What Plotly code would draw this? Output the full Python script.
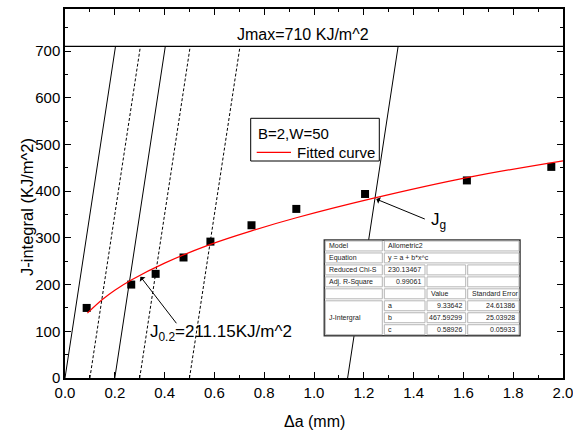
import plotly.graph_objects as go

# ---------------- data ----------------
da_points = [0.087, 0.266, 0.364, 0.476, 0.584, 0.749, 0.929, 1.205, 1.614, 1.953]
j_points = [150, 200, 223, 258, 292, 327, 362, 394, 423, 452]

fit_x = [0.09, 0.15, 0.2, 0.27, 0.4, 0.584, 0.749, 0.929, 1.24, 1.614, 2.0]
fit_y = [139, 168, 188, 211, 246, 286, 315, 343, 385, 429, 465]

solid_offsets = [0.0, 0.2, 1.135]
dashed_offsets = [0.1, 0.3, 0.5]
blunt_slope = 3500.0
j_max = 710

legend_title = "B=2,W=50"
legend_label = "Fitted curve"

table_rows = [
    ["Model", "Allometric2", None, None],
    ["Equation", "y = a + b*x^c", None, None],
    ["Reduced Chi-S", "230.13467", "", ""],
    ["Adj. R-Square", "0.99061", "", ""],
    ["", "", "Value", "Standard Error"],
    ["J-Intergral", "a", "9.33642", "24.61386"],
    [None, "b", "467.59299", "25.03928"],
    [None, "c", "0.58926", "0.05933"],
]

FONT = "Liberation Sans, Arial, sans-serif"
W, H = 573, 432
ML, MR, MT, MB = 65, 10, 9, 54
X0, X1 = 0.0, 2.0
Y0, Y1 = 0.0, 790.0
PW, PH = W - ML - MR, H - MT - MB


def px2x(px):
    return X0 + (px - ML) / PW * (X1 - X0)


def py2y(py):
    return Y0 + (H - MB - py) / PH * (Y1 - Y0)


fig = go.Figure()

# blunting / offset lines
for offs, dash in [(solid_offsets, "solid"), (dashed_offsets, "3px,2px")]:
    for o in offs:
        fig.add_trace(go.Scatter(
            x=[o, o + j_max / blunt_slope], y=[0, j_max], mode="lines",
            line=dict(color="black", width=1, dash=dash),
            showlegend=False, hoverinfo="skip"))

# Jmax line
fig.add_trace(go.Scatter(x=[X0, X1], y=[j_max, j_max], mode="lines",
                         line=dict(color="black", width=1.2),
                         showlegend=False, hoverinfo="skip"))

# data points
fig.add_trace(go.Scatter(x=da_points, y=j_points, mode="markers",
                         marker=dict(symbol="square", size=8, color="black"),
                         showlegend=False))

# fitted curve
fig.add_trace(go.Scatter(x=fit_x, y=fit_y, mode="lines", name=legend_label,
                         line=dict(color="red", width=1.2, shape="spline"),
                         showlegend=False))

annotations = []
shapes = []

annotations.append(dict(x=0.955, y=j_max, xref="x", yref="y", text="Jmax=710 KJ/m^2",
                        showarrow=False, yanchor="bottom", yshift=1,
                        font=dict(size=16, color="black", family=FONT)))
# J0.2 arrow
annotations.append(dict(x=0.303, y=217, ax=0.452, ay=114, xref="x", yref="y",
                        axref="x", ayref="y", text="", showarrow=True,
                        arrowhead=1, arrowsize=1.2, arrowwidth=1, arrowcolor="black"))
annotations.append(dict(x=0.334, y=97, xref="x", yref="y",
                        text="J<sub>0.2</sub>=211.15KJ/m^2", showarrow=False,
                        xanchor="left", yanchor="middle",
                        font=dict(size=17, color="black", family=FONT)))
# Jg arrow
annotations.append(dict(x=1.25, y=383, ax=1.451, ay=339, xref="x", yref="y",
                        axref="x", ayref="y", text="", showarrow=True,
                        arrowhead=1, arrowsize=1.2, arrowwidth=1, arrowcolor="black"))
annotations.append(dict(x=1.463, y=337, xref="x", yref="y",
                        text="J<sub>g</sub>", showarrow=False,
                        xanchor="left", yanchor="middle",
                        font=dict(size=17, color="black", family=FONT)))
# axis titles
annotations.append(dict(x=-0.098, y=0.464, xref="paper", yref="paper",
                        text="J-integral (KJ/m^2)", textangle=-90, showarrow=False,
                        font=dict(size=16.5, color="black", family=FONT)))
annotations.append(dict(x=0.5, y=-0.118, xref="paper", yref="paper",
                        text="\u0394a (mm)", showarrow=False, yanchor="middle",
                        font=dict(size=16, color="black", family=FONT)))

# ---------------- legend (drawn box) ----------------
lg_l, lg_r, lg_t, lg_b = 250.7, 379.3, 118.3, 161.0
shapes.append(dict(type="rect", xref="x", yref="y", layer="above",
                   x0=px2x(lg_l), x1=px2x(lg_r), y0=py2y(lg_b), y1=py2y(lg_t),
                   fillcolor="white", line=dict(color="black", width=1)))
shapes.append(dict(type="line", xref="x", yref="y", layer="above",
                   x0=px2x(256.7), x1=px2x(291), y0=py2y(152.3), y1=py2y(152.3),
                   line=dict(color="red", width=1.2)))
annotations.append(dict(x=px2x(256), y=py2y(133.3), xref="x", yref="y",
                        text=legend_title, showarrow=False, xanchor="left",
                        yanchor="middle", font=dict(size=15, color="black", family=FONT)))
annotations.append(dict(x=px2x(295), y=py2y(152), xref="x", yref="y",
                        text=legend_label, showarrow=False, xanchor="left",
                        yanchor="middle", font=dict(size=15, color="black", family=FONT)))

# ---------------- table ----------------
t_left, t_top = 324.3, 240.0
col_px = [324.3, 383.3, 426.0, 466.7, 520.0]
row_h = 11.96
n_rows = len(table_rows)
t_bottom = t_top + n_rows * row_h

shapes.append(dict(type="rect", xref="x", yref="y", layer="above",
                   x0=px2x(t_left), x1=px2x(col_px[-1]),
                   y0=py2y(t_bottom), y1=py2y(t_top),
                   fillcolor="white", line=dict(color="#333", width=1.5)))

gray = "#b5b5b5"
for r, row in enumerate(table_rows):
    ytop = t_top + r * row_h + 1
    ybot = t_top + (r + 1) * row_h - 1
    for c in range(4):
        val = row[c]
        if val is None:
            continue
        c_end = c + 1
        while c_end < 4 and row[c_end] is None and r < 2:
            c_end += 1
        yb = ybot
        if r == 5 and c == 0:
            yb = t_top + n_rows * row_h - 1
        shapes.append(dict(type="rect", xref="x", yref="y", layer="above",
                           x0=px2x(col_px[c] + 1), x1=px2x(col_px[c_end] - 1),
                           y0=py2y(yb), y1=py2y(ytop),
                           line=dict(color=gray, width=1), fillcolor="rgba(0,0,0,0)"))
        if val == "":
            continue
        numeric = val.replace(".", "").isdigit()
        if numeric:
            tx, anchor = px2x(col_px[c_end] - 3), "right"
        else:
            tx, anchor = px2x(col_px[c] + 3), "left"
        annotations.append(dict(x=tx, y=py2y((ytop + yb) / 2), xref="x", yref="y",
                                text=val, showarrow=False, xanchor=anchor,
                                yanchor="middle",
                                font=dict(size=7, color="#222", family=FONT)))

axis_common = dict(showline=True, linecolor="black", linewidth=1.5, mirror="ticks",
                   ticks="inside", ticklen=6, tickwidth=1.2, tickcolor="black",
                   showgrid=False, zeroline=False, automargin=False,
                   ticklabeloverflow="allow",
                   tickfont=dict(size=15, color="black", family=FONT))

fig.update_layout(
    width=W, height=H,
    margin=dict(l=ML, r=MR, t=MT, b=MB, autoexpand=False),
    paper_bgcolor="white", plot_bgcolor="white",
    font=dict(family=FONT, color="black"),
    xaxis=dict(range=[X0, X1], dtick=0.2, tickformat=".1f",
               minor=dict(ticks="inside", dtick=0.1, ticklen=3, tickcolor="black"),
               **axis_common),
    yaxis=dict(range=[Y0, Y1], dtick=100,
               minor=dict(ticks="inside", dtick=50, ticklen=3, tickcolor="black"),
               **axis_common),
    shapes=shapes,
    annotations=annotations,
    showlegend=False,
)

fig.write_html("out.html", config={"displayModeBar": False},
               post_script="document.body.style.margin='0';")
